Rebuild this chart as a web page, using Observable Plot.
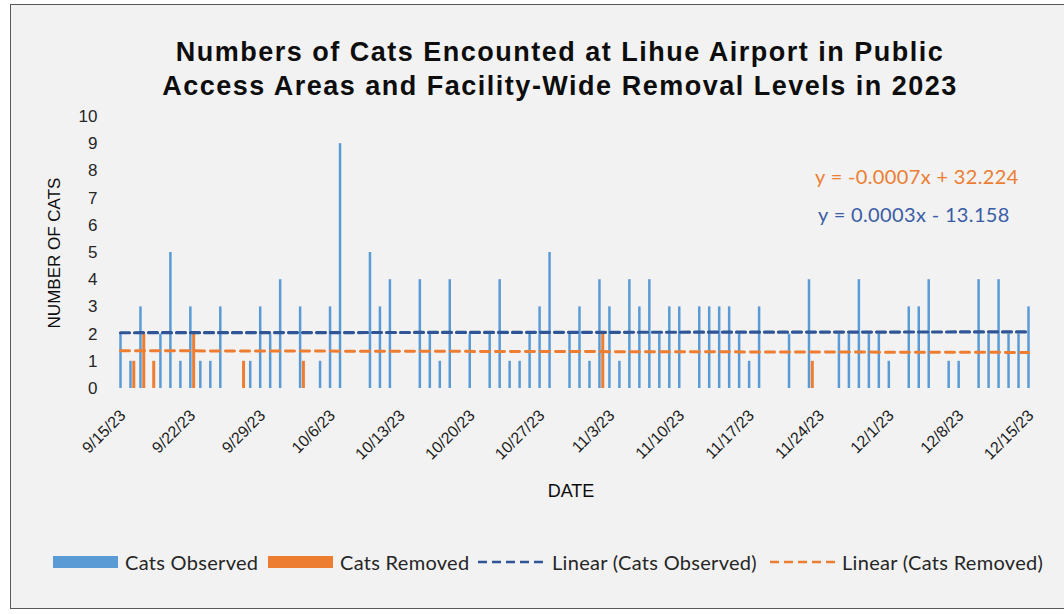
<!DOCTYPE html>
<html><head><meta charset="utf-8">
<script src="https://cdn.jsdelivr.net/npm/d3@7"></script>
<script src="https://cdn.jsdelivr.net/npm/@observablehq/plot@0.6"></script>
<style>
html,body{margin:0;padding:0;background:#fff;}
#wrap{position:relative;width:1064px;height:614px;overflow:hidden;font-family:"Liberation Sans",Arial,sans-serif;}
#frame{position:absolute;left:10px;top:4px;width:1060px;height:605px;background:#f2f2f2;border:1px solid #595959;box-sizing:border-box;}
#chart{position:absolute;left:0;top:0;}
.title{position:absolute;left:60px;width:1000px;text-align:center;font-weight:bold;font-size:27px;line-height:1;letter-spacing:1.5px;color:#0d0d0d;white-space:nowrap;}
.ytitle{position:absolute;left:55px;top:253px;transform:translate(-50%,-50%) rotate(-90deg);font-size:17px;color:#0d0d0d;white-space:nowrap;}
.xtitle{position:absolute;left:571px;top:491px;transform:translate(-50%,-50%);font-size:18px;color:#0d0d0d;}
.eq{position:absolute;font-family:Lato,"Open Sans",sans-serif;font-size:20px;letter-spacing:0.35px;line-height:1;white-space:nowrap;}
.leg{position:absolute;top:549px;font-family:Lato,"Open Sans",sans-serif;font-size:20px;letter-spacing:0.3px;line-height:26px;color:#262626;white-space:nowrap;}
.sw{position:absolute;top:556px;height:12px;}
</style></head>
<body>
<div id="wrap">
  <div id="frame"></div>
  <div id="chart"></div>
  <div class="title" style="top:39px">Numbers of Cats Encounted at Lihue Airport in Public</div>
  <div class="title" style="top:73px">Access Areas and Facility-Wide Removal Levels in 2023</div>
  <div class="ytitle">NUMBER OF CATS</div>
  <div class="xtitle">DATE</div>
  <div class="eq" id="eqR" style="left:815px;top:166px;color:#ED7D31"></div>
  <div class="eq" id="eqO" style="left:818px;top:204px;color:#3A5DA8"></div>
  <div id="legend"></div>
</div>
<script>
// ---- data ----
const seriesNames = ["Cats Observed", "Cats Removed", "Linear (Cats Observed)", "Linear (Cats Removed)"];
const obsDates = ["2023-09-15","2023-09-16","2023-09-17","2023-09-19","2023-09-20","2023-09-21","2023-09-22","2023-09-23","2023-09-24","2023-09-25",
  "2023-09-28","2023-09-29","2023-09-30","2023-10-01","2023-10-03","2023-10-05","2023-10-06","2023-10-07","2023-10-10","2023-10-11",
  "2023-10-12","2023-10-15","2023-10-16","2023-10-17","2023-10-18","2023-10-20","2023-10-22","2023-10-23","2023-10-24","2023-10-25",
  "2023-10-26","2023-10-27","2023-10-28","2023-10-30","2023-10-31","2023-11-01","2023-11-02","2023-11-03","2023-11-04","2023-11-05",
  "2023-11-06","2023-11-07","2023-11-08","2023-11-09","2023-11-10","2023-11-12","2023-11-13","2023-11-14","2023-11-15","2023-11-16",
  "2023-11-17","2023-11-18","2023-11-21","2023-11-23","2023-11-26","2023-11-27","2023-11-28","2023-11-29","2023-11-30","2023-12-01",
  "2023-12-03","2023-12-04","2023-12-05","2023-12-07","2023-12-08","2023-12-10","2023-12-11","2023-12-12","2023-12-13","2023-12-14","2023-12-15"];
const obsCounts = [2,1,3,2,5,1,3,1,1,3,
  1,3,2,4,3,1,3,9,5,3,
  4,4,2,1,4,2,2,4,1,1,
  2,3,5,2,3,1,4,3,1,4,
  3,4,2,3,3,3,3,3,3,2,
  1,3,2,4,2,2,4,2,2,1,
  3,3,4,1,1,4,2,4,2,2,3];
const remDates = ["2023-09-16","2023-09-17","2023-09-18","2023-09-22","2023-09-27","2023-10-03","2023-11-02","2023-11-23"];
const remCounts = [1,2,1,2,1,1,2,1];
const xTickDates = ["2023-09-15","2023-09-22","2023-09-29","2023-10-06","2023-10-13","2023-10-20","2023-10-27",
  "2023-11-03","2023-11-10","2023-11-17","2023-11-24","2023-12-01","2023-12-08","2023-12-15"];
const yTicks = [0,1,2,3,4,5,6,7,8,9,10];
const equations = ["y = 0.0003x - 13.158", "y = -0.0007x + 32.224"];
const colors = {obs:"#5B9BD5", rem:"#ED7D31", obsTrend:"#2F5597", remTrend:"#ED7D31"};

// ---- build ----
const parse = d3.utcParse("%Y-%m-%d");
const observed = obsDates.map((d,i)=>({date:parse(d), value:obsCounts[i]}));
const removed = remDates.map((d,i)=>({date:parse(d), value:remCounts[i]}));
const ticks = xTickDates.map(parse);
const start = ticks[0], end = ticks[ticks.length-1];
const dayIdx = d => (d - start)/864e5;
const obsMap = new Map(observed.map(d=>[+d.date, d.value]));
const allDays = d3.utcDay.range(start, d3.utcDay.offset(end,1));
function fit(pts){
  const mx = d3.mean(pts,p=>p.t), my = d3.mean(pts,p=>p.v);
  const sxy = d3.sum(pts,p=>(p.t-mx)*(p.v-my)), sxx = d3.sum(pts,p=>(p.t-mx)**2);
  const b = sxy/sxx; return {a: my - b*mx, b};
}
const fObs = fit(allDays.map(d=>({t:dayIdx(d), v: obsMap.get(+d) ?? 0})));
const fRem = fit(removed.map(d=>({t:dayIdx(d.date), v:d.value})));
const trendObs = [start,end].map(d=>({date:d, value:fObs.a+fObs.b*dayIdx(d)}));
const trendRem = [start,end].map(d=>({date:d, value:fRem.a+fRem.b*dayIdx(d)}));
const fmt = d3.utcFormat("%-m/%-d/%y");

const chart = Plot.plot({
  width:1064, height:614,
  marginLeft:120, marginRight:36, marginTop:116, marginBottom:226,
  style:{background:"transparent", fontFamily:"'Liberation Sans', Arial, sans-serif", overflow:"visible"},
  x:{type:"utc", domain:[start,end], axis:null},
  y:{domain:[0,10]},
  marks:[
    Plot.axisY({ticks:yTicks, tickSize:0, tickPadding:23, fontSize:17, label:null, tickFormat:d=>String(d), color:"#262626"}),
    Plot.ruleX(observed, {x:"date", y1:0, y2:"value", stroke:colors.obs, strokeWidth:2.5}),
    Plot.ruleX(removed, {x:"date", y1:0, y2:"value", stroke:colors.rem, strokeWidth:3, dx:3.3}),
    Plot.line(trendObs, {x:"date", y:"value", stroke:colors.obsTrend, strokeWidth:3.2, strokeDasharray:"9,5"}),
    Plot.line(trendRem, {x:"date", y:"value", stroke:colors.remTrend, strokeWidth:3, strokeDasharray:"9,6"}),
    Plot.text(ticks, {x:d=>d, frameAnchor:"bottom", text:d=>fmt(d), rotate:-45, textAnchor:"end", lineAnchor:"bottom",
      dx:6, dy:28, fontSize:16, fill:"#1a1a1a"})
  ]
});
document.getElementById("chart").appendChild(chart);
document.getElementById("eqR").textContent = equations[1];
document.getElementById("eqO").textContent = equations[0];

// legend
const leg = document.getElementById("legend");
const items = [
  {type:"box", color:colors.obs, x:53, tx:125},
  {type:"box", color:colors.rem, x:268, tx:340},
  {type:"dash", color:colors.obsTrend, x:478, tx:552},
  {type:"dash", color:colors.remTrend, x:770, tx:842}
];
items.forEach((it,i)=>{
  if(it.type==="box"){
    const s=document.createElement("div"); s.className="sw";
    s.style.left=it.x+"px"; s.style.width="65px"; s.style.background=it.color;
    leg.appendChild(s);
  } else {
    const svg=d3.create("svg").attr("width",70).attr("height",6)
      .style("position","absolute").style("left",it.x+"px").style("top","559px");
    svg.append("line").attr("x1",0).attr("x2",70).attr("y1",3).attr("y2",3)
      .attr("stroke",it.color).attr("stroke-width",2.5).attr("stroke-dasharray","9,5");
    leg.appendChild(svg.node());
  }
  const t=document.createElement("div"); t.className="leg";
  t.style.left=it.tx+"px"; t.textContent=seriesNames[i];
  leg.appendChild(t);
});
</script>
</body></html>
